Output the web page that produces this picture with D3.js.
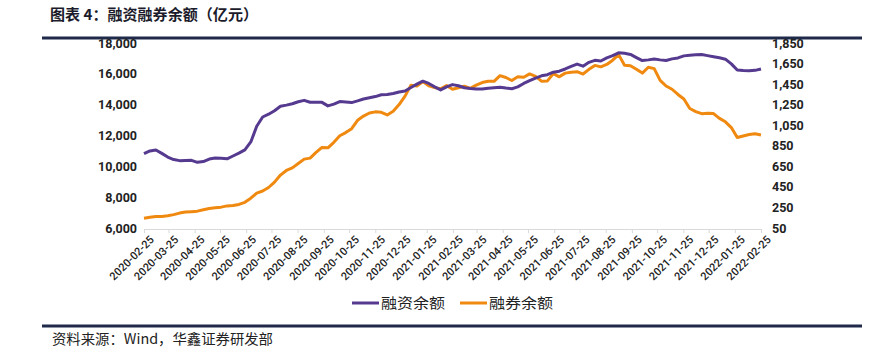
<!DOCTYPE html>
<html>
<head>
<meta charset="utf-8">
<script src="https://cdn.jsdelivr.net/npm/d3@7"></script>
<style>
  body { margin: 0; background: #fff; }
  svg { display: block; }
</style>
</head>
<body>
<div id="chart"></div>
<script>
// 融资余额 (left axis, 亿元), weekly readings 2020-02-25 .. 2022-02-25
const marginBal = [
  10820, 11000, 11060, 10840, 10600, 10440, 10370, 10380, 10390, 10260,
  10310, 10475, 10535, 10520, 10490, 10670, 10855, 11065, 11580, 12600,
  13200, 13380, 13610, 13895, 13970, 14060, 14190, 14280, 14160, 14150,
  14150, 13920, 14035, 14200, 14175, 14135, 14245, 14365, 14445, 14525,
  14640, 14660, 14720, 14820, 14885, 15115, 15330, 15525, 15375, 15155,
  14960, 15155, 15300, 15225, 15095, 15045, 15015, 15015, 15065, 15100,
  15135, 15075, 15035, 15155, 15375, 15555, 15725, 15870, 15945, 16105,
  16170, 16315, 16480, 16630, 16495, 16745, 16875, 16830, 17030, 17175,
  17365, 17330, 17260, 17055, 16860, 16905, 16960, 16905, 16865, 16970,
  17030, 17165, 17205, 17235, 17255, 17180, 17110, 17040, 16950, 16645,
  16245, 16210, 16195, 16225, 16315
];
// 融券余额 (right axis, 亿元)
const shortBal = [
  144, 154, 161, 163, 169, 180, 195, 205, 209, 214,
  227, 240, 247, 253, 265, 269, 279, 300, 340, 390,
  410, 444, 496, 565, 610, 635, 677, 720, 730, 785,
  834, 830, 884, 948, 978, 1016, 1098, 1139, 1169, 1180,
  1176, 1150, 1186, 1251, 1333, 1440, 1432, 1476, 1434, 1416,
  1404, 1436, 1400, 1414, 1430, 1408, 1440, 1465, 1477, 1477,
  1532, 1514, 1485, 1521, 1517, 1549, 1526, 1479, 1481, 1552,
  1521, 1557, 1566, 1571, 1548, 1594, 1632, 1618, 1641, 1683,
  1737, 1634, 1629, 1595, 1557, 1614, 1601, 1487, 1432, 1400,
  1349, 1305, 1213, 1183, 1162, 1166, 1163, 1117, 1083, 1027,
  930, 945, 959, 967, 955
];
const startDate = "2020-02-25";
const endDate = "2022-02-25";
const leftTicks = [6000, 8000, 10000, 12000, 14000, 16000, 18000];
const rightTicks = [50, 250, 450, 650, 850, 1050, 1250, 1450, 1650, 1850];
const seriesNames = ["融资余额", "融券余额"];
const colors = ["#553a8f", "#f0890f"];

const width = 880, height = 354;
const margin = {top: 43, bottom: 126, left: 144, right: 119};

const parse = d3.timeParse("%Y-%m-%d");
const t0 = parse(startDate), t1 = parse(endDate);
const n = marginBal.length;
const dates = d3.range(n).map(i => new Date(+t0 + i * (t1 - t0) / (n - 1)));
const monthTicks = d3.range(25).map(i => d3.timeMonth.offset(t0, i));

const svg = d3.select("#chart").append("svg")
  .attr("width", width)
  .attr("height", height);

const x = d3.scaleTime()
  .domain([t0, t1])
  .range([margin.left, width - margin.right]);

const yL = d3.scaleLinear()
  .domain([6000, 18000])
  .range([height - margin.bottom, margin.top]);

const yR = d3.scaleLinear()
  .domain([50, 1850])
  .range([height - margin.bottom, margin.top]);

// title
svg.append("text")
  .attr("x", 50).attr("y", 20)
  .attr("font-family", "Noto Sans CJK SC")
  .attr("font-size", 15)
  .attr("font-weight", 700)
  .attr("fill", "#1b1b2b")
  .attr("textLength", 208)
  .attr("lengthAdjust", "spacingAndGlyphs")
  .text("图表 4：融资融券余额（亿元）");

svg.append("rect")
  .attr("x", 42).attr("y", 36.5).attr("width", 820).attr("height", 3)
  .attr("fill", "#1f2a4a");

// x axis
const xAxis = d3.axisBottom(x)
  .tickValues(monthTicks)
  .tickSize(4)
  .tickFormat(d3.timeFormat("%Y-%m-%d"));

const gx = svg.append("g")
  .attr("transform", "translate(0," + (height - margin.bottom + 1) + ")")
  .call(xAxis);
gx.select(".domain").attr("stroke", "#d9d9d9");
gx.selectAll(".tick line").attr("stroke", "#d9d9d9");
gx.selectAll(".tick text")
  .attr("font-family", "Roboto")
  .attr("font-size", 11)
  .attr("font-weight", 500)
  .attr("fill", "#222")
  .attr("text-anchor", "end")
  .attr("dy", "0.3em")
  .attr("transform", "translate(3,4) rotate(-45)");

// left axis
const gl = svg.append("g")
  .attr("transform", "translate(" + (margin.left - 4) + ",0)")
  .call(d3.axisLeft(yL).tickValues(leftTicks).tickSize(0).tickFormat(d3.format(",")));
gl.select(".domain").remove();
gl.selectAll(".tick text")
  .attr("font-family", "Roboto")
  .attr("font-size", 12.5)
  .attr("font-weight", 700)
  .attr("fill", "#222");

// right axis
const gr = svg.append("g")
  .attr("transform", "translate(" + (width - margin.right + 8) + ",0)")
  .call(d3.axisRight(yR).tickValues(rightTicks).tickSize(0).tickFormat(d3.format(",")));
gr.select(".domain").remove();
gr.selectAll(".tick text")
  .attr("font-family", "Roboto")
  .attr("font-size", 12.5)
  .attr("font-weight", 700)
  .attr("fill", "#222");

// lines
const lineL = d3.line().x((d, i) => x(dates[i])).y(d => yL(d));
const lineR = d3.line().x((d, i) => x(dates[i])).y(d => yR(d));

svg.append("path")
  .attr("d", lineR(shortBal))
  .attr("fill", "none")
  .attr("stroke", colors[1])
  .attr("stroke-width", 3)
  .attr("stroke-linejoin", "round");

svg.append("path")
  .attr("d", lineL(marginBal))
  .attr("fill", "none")
  .attr("stroke", colors[0])
  .attr("stroke-width", 3)
  .attr("stroke-linejoin", "round");

// legend
const legendX = [352, 460];
const legend = svg.append("g");
seriesNames.forEach((name, i) => {
  legend.append("line")
    .attr("x1", legendX[i]).attr("x2", legendX[i] + 27)
    .attr("y1", 303).attr("y2", 303)
    .attr("stroke", colors[i]).attr("stroke-width", 3);
  legend.append("text")
    .attr("x", legendX[i] + 29).attr("y", 308)
    .attr("font-family", "Noto Sans CJK SC")
    .attr("font-size", 14)
    .attr("fill", "#222")
    .attr("textLength", 64)
    .attr("lengthAdjust", "spacingAndGlyphs")
    .text(name);
});

// bottom rule and source
svg.append("rect")
  .attr("x", 42).attr("y", 324.5).attr("width", 820).attr("height", 3)
  .attr("fill", "#1f2a4a");

svg.append("text")
  .attr("x", 52).attr("y", 344)
  .attr("font-family", "Noto Sans CJK SC")
  .attr("font-size", 14)
  .attr("fill", "#222")
  .attr("textLength", 221)
  .attr("lengthAdjust", "spacingAndGlyphs")
  .text("资料来源：Wind，华鑫证券研发部");
</script>
</body>
</html>
